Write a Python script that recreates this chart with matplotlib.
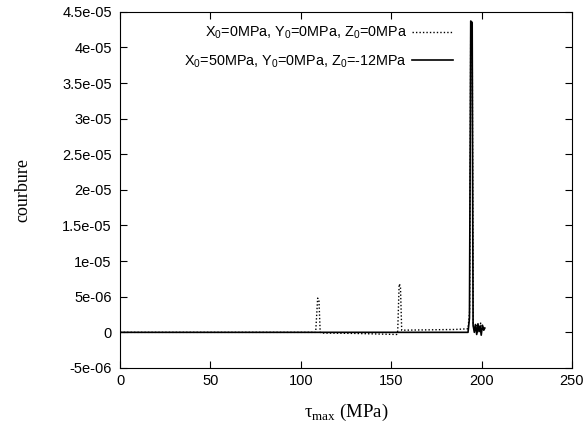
import matplotlib
matplotlib.use("Agg")
import matplotlib.pyplot as plt
from matplotlib.ticker import FixedLocator, FixedFormatter

# series 1: X0=0, Y0=0, Z0=0 (dotted)
x_zero = [0, 108.2, 109.3, 110.0, 110.7, 111.5, 130, 145, 153.0, 153.6, 154.4, 155.1,
          155.8, 170, 185, 192.5, 193.4, 194.0, 194.8, 195.4, 196.2, 196.8, 197.5,
          198.2, 198.8, 199.5, 200.2, 200.9, 201.6]
y_zero = [0, 0, 4.8, 4.6, 0.0, -0.1, -0.15, -0.25, -0.3, 0.2, 6.8, 6.5,
          0.3, 0.35, 0.4, 0.5, 3.0, 43.0, 42.5, 1.0, 0.2, 1.2, -0.2,
          1.0, 0.1, 1.3, 0.2, 0.8, 0.4]

# series 2: X0=50, Y0=0, Z0=-12 (solid)
x_fifty = [0, 192.5, 193.3, 194.0, 194.8, 195.3, 196.0, 196.6, 197.3, 198.0, 198.6,
           199.2, 199.8, 200.5, 201.2, 201.8]
y_fifty = [0, 0, 2.0, 43.7, 43.5, 1.0, 0.0, 1.1, -0.3, 1.2, 0.1,
           0.9, -0.4, 1.0, 0.3, 0.6]

yticks = [-5e-06, 0, 5e-06, 1e-05, 1.5e-05, 2e-05, 2.5e-05, 3e-05, 3.5e-05, 4e-05, 4.5e-05]
ytick_labels = ["-5e-06", "0", "5e-06", "1e-05", "1.5e-05", "2e-05", "2.5e-05",
                "3e-05", "3.5e-05", "4e-05", "4.5e-05"]
xticks = [0, 50, 100, 150, 200, 250]

plt.rcParams["font.family"] = ["Liberation Sans", "DejaVu Sans"]
plt.rcParams["mathtext.fontset"] = "custom"
plt.rcParams["mathtext.rm"] = "Liberation Sans"
# serif face for the tau label
plt.rcParams["mathtext.sf"] = "Liberation Serif"

fig = plt.figure(figsize=(5.86, 4.21), dpi=100)
ax = fig.add_axes([0.205, 0.126, 0.771, 0.846])

ax.plot(x_zero, [v * 1e-6 for v in y_zero], color="black", lw=1.0,
        linestyle=(0, (1, 1.5)), label="X$_0$=0MPa, Y$_0$=0MPa, Z$_0$=0MPa")
ax.plot(x_fifty, [v * 1e-6 for v in y_fifty], color="black", lw=1.2,
        label="X$_0$=50MPa, Y$_0$=0MPa, Z$_0$=-12MPa")

ax.set_xlim(0, 250)
ax.set_ylim(-5e-06, 4.5e-05)
ax.xaxis.set_major_locator(FixedLocator(xticks))
ax.yaxis.set_major_locator(FixedLocator(yticks))
ax.yaxis.set_major_formatter(FixedFormatter(ytick_labels))
ax.tick_params(direction="in", top=True, right=True, length=5, labelsize=10.5)
ax.tick_params(axis="x", pad=4)
ax.tick_params(axis="y", pad=6)

ax.set_xlabel("$\\mathsf{τ}_{\\mathsf{max}}$ (MPa)", family="Liberation Serif",
              fontsize=13.5, labelpad=10)
ax.set_ylabel("courbure", family="Liberation Serif", fontsize=13, labelpad=22)

ax.legend(loc="upper right", bbox_to_anchor=(0.765, 1.0), frameon=False, markerfirst=False,
          fontsize=10.4, handlelength=2.8, labelspacing=0.85, handletextpad=0.35)

fig.savefig("out.png", dpi=100)
